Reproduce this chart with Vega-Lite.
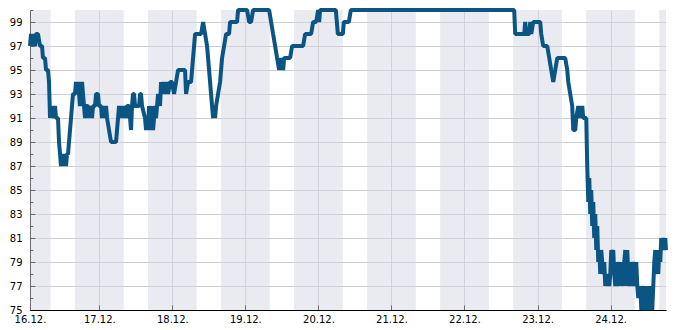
{
  "$schema": "https://vega.github.io/schema/vega-lite/v6.json",
  "width": 636,
  "height": 300,
  "autosize": {"type": "none"},
  "padding": {"left": 30, "top": 10, "right": 19, "bottom": 20},
  "background": "white",
  "config": {
    "view": {"stroke": null},
    "axis": {
      "labelFont": "DejaVu Sans",
      "labelFontSize": 10,
      "labelColor": "#000",
      "domainColor": "#000",
      "tickColor": "#000",
      "gridColor": "#cdcdd2",
      "labelOverlap": false,
      "title": null
    }
  },
  "datasets": {
    "bands": [
      {"time": "2023-12-15T16:00", "end": "2023-12-16T08:00"},
      {"time": "2023-12-16T16:00", "end": "2023-12-17T08:00"},
      {"time": "2023-12-17T16:00", "end": "2023-12-18T08:00"},
      {"time": "2023-12-18T16:00", "end": "2023-12-19T08:00"},
      {"time": "2023-12-19T16:00", "end": "2023-12-20T08:00"},
      {"time": "2023-12-20T16:00", "end": "2023-12-21T08:00"},
      {"time": "2023-12-21T16:00", "end": "2023-12-22T08:00"},
      {"time": "2023-12-22T16:00", "end": "2023-12-23T08:00"},
      {"time": "2023-12-23T16:00", "end": "2023-12-24T08:00"},
      {"time": "2023-12-24T16:00", "end": "2023-12-25T08:00"}
    ],
    "series": [
      {"time": "2023-12-16T01:13", "value": 97},
      {"time": "2023-12-16T01:33", "value": 98},
      {"time": "2023-12-16T01:52", "value": 97},
      {"time": "2023-12-16T02:12", "value": 98},
      {"time": "2023-12-16T02:52", "value": 97},
      {"time": "2023-12-16T03:11", "value": 98},
      {"time": "2023-12-16T03:51", "value": 98},
      {"time": "2023-12-16T04:30", "value": 97},
      {"time": "2023-12-16T05:10", "value": 97},
      {"time": "2023-12-16T05:29", "value": 96},
      {"time": "2023-12-16T06:09", "value": 96},
      {"time": "2023-12-16T06:29", "value": 95},
      {"time": "2023-12-16T07:08", "value": 95},
      {"time": "2023-12-16T07:28", "value": 94},
      {"time": "2023-12-16T07:48", "value": 91},
      {"time": "2023-12-16T08:07", "value": 92},
      {"time": "2023-12-16T08:27", "value": 91},
      {"time": "2023-12-16T08:47", "value": 92},
      {"time": "2023-12-16T09:06", "value": 91},
      {"time": "2023-12-16T09:26", "value": 92},
      {"time": "2023-12-16T09:46", "value": 91},
      {"time": "2023-12-16T10:25", "value": 91},
      {"time": "2023-12-16T10:45", "value": 89},
      {"time": "2023-12-16T11:05", "value": 88},
      {"time": "2023-12-16T11:24", "value": 87},
      {"time": "2023-12-16T11:44", "value": 88},
      {"time": "2023-12-16T12:04", "value": 87},
      {"time": "2023-12-16T12:43", "value": 88},
      {"time": "2023-12-16T13:03", "value": 87},
      {"time": "2023-12-16T13:23", "value": 88},
      {"time": "2023-12-16T13:43", "value": 88},
      {"time": "2023-12-16T14:02", "value": 89},
      {"time": "2023-12-16T14:22", "value": 90},
      {"time": "2023-12-16T14:42", "value": 91},
      {"time": "2023-12-16T15:01", "value": 92},
      {"time": "2023-12-16T15:21", "value": 93},
      {"time": "2023-12-16T16:01", "value": 93},
      {"time": "2023-12-16T16:20", "value": 94},
      {"time": "2023-12-16T16:40", "value": 93},
      {"time": "2023-12-16T17:00", "value": 94},
      {"time": "2023-12-16T17:20", "value": 93},
      {"time": "2023-12-16T17:39", "value": 92},
      {"time": "2023-12-16T17:59", "value": 93},
      {"time": "2023-12-16T18:19", "value": 94},
      {"time": "2023-12-16T18:38", "value": 93},
      {"time": "2023-12-16T18:58", "value": 92},
      {"time": "2023-12-16T19:18", "value": 91},
      {"time": "2023-12-16T19:38", "value": 92},
      {"time": "2023-12-16T20:17", "value": 92},
      {"time": "2023-12-16T20:37", "value": 91},
      {"time": "2023-12-16T20:57", "value": 92},
      {"time": "2023-12-16T21:36", "value": 91},
      {"time": "2023-12-16T21:56", "value": 92},
      {"time": "2023-12-16T22:35", "value": 92},
      {"time": "2023-12-16T22:55", "value": 93},
      {"time": "2023-12-16T23:34", "value": 93},
      {"time": "2023-12-16T23:54", "value": 92},
      {"time": "2023-12-17T00:34", "value": 92},
      {"time": "2023-12-17T00:53", "value": 91},
      {"time": "2023-12-17T01:13", "value": 92},
      {"time": "2023-12-17T01:33", "value": 91},
      {"time": "2023-12-17T02:12", "value": 92},
      {"time": "2023-12-17T02:32", "value": 91},
      {"time": "2023-12-17T03:11", "value": 90},
      {"time": "2023-12-17T03:51", "value": 89},
      {"time": "2023-12-17T04:50", "value": 89},
      {"time": "2023-12-17T05:29", "value": 89},
      {"time": "2023-12-17T05:49", "value": 90},
      {"time": "2023-12-17T06:09", "value": 91},
      {"time": "2023-12-17T06:29", "value": 92},
      {"time": "2023-12-17T06:48", "value": 91},
      {"time": "2023-12-17T07:08", "value": 92},
      {"time": "2023-12-17T07:28", "value": 91},
      {"time": "2023-12-17T07:47", "value": 92},
      {"time": "2023-12-17T08:07", "value": 91},
      {"time": "2023-12-17T08:27", "value": 92},
      {"time": "2023-12-17T08:47", "value": 91},
      {"time": "2023-12-17T09:06", "value": 92},
      {"time": "2023-12-17T09:46", "value": 92},
      {"time": "2023-12-17T10:06", "value": 91},
      {"time": "2023-12-17T10:25", "value": 90},
      {"time": "2023-12-17T10:45", "value": 92},
      {"time": "2023-12-17T11:04", "value": 93},
      {"time": "2023-12-17T11:24", "value": 93},
      {"time": "2023-12-17T11:44", "value": 92},
      {"time": "2023-12-17T13:03", "value": 92},
      {"time": "2023-12-17T13:23", "value": 93},
      {"time": "2023-12-17T13:42", "value": 93},
      {"time": "2023-12-17T14:02", "value": 92},
      {"time": "2023-12-17T15:01", "value": 91},
      {"time": "2023-12-17T15:21", "value": 90},
      {"time": "2023-12-17T15:41", "value": 91},
      {"time": "2023-12-17T16:01", "value": 90},
      {"time": "2023-12-17T16:20", "value": 92},
      {"time": "2023-12-17T16:40", "value": 91},
      {"time": "2023-12-17T17:00", "value": 90},
      {"time": "2023-12-17T17:20", "value": 92},
      {"time": "2023-12-17T17:39", "value": 90},
      {"time": "2023-12-17T17:59", "value": 91},
      {"time": "2023-12-17T18:19", "value": 92},
      {"time": "2023-12-17T18:38", "value": 91},
      {"time": "2023-12-17T18:58", "value": 92},
      {"time": "2023-12-17T19:18", "value": 93},
      {"time": "2023-12-17T19:57", "value": 92},
      {"time": "2023-12-17T20:17", "value": 94},
      {"time": "2023-12-17T20:37", "value": 93},
      {"time": "2023-12-17T20:56", "value": 94},
      {"time": "2023-12-17T21:16", "value": 93},
      {"time": "2023-12-17T21:36", "value": 94},
      {"time": "2023-12-17T21:56", "value": 93},
      {"time": "2023-12-17T22:15", "value": 94},
      {"time": "2023-12-17T22:35", "value": 93},
      {"time": "2023-12-17T23:15", "value": 94},
      {"time": "2023-12-17T23:54", "value": 94},
      {"time": "2023-12-18T00:33", "value": 93},
      {"time": "2023-12-18T01:13", "value": 94},
      {"time": "2023-12-18T01:52", "value": 95},
      {"time": "2023-12-18T04:10", "value": 95},
      {"time": "2023-12-18T04:30", "value": 93},
      {"time": "2023-12-18T05:10", "value": 94},
      {"time": "2023-12-18T06:09", "value": 94},
      {"time": "2023-12-18T06:48", "value": 96},
      {"time": "2023-12-18T07:28", "value": 98},
      {"time": "2023-12-18T09:26", "value": 98},
      {"time": "2023-12-18T10:06", "value": 99},
      {"time": "2023-12-18T10:45", "value": 98},
      {"time": "2023-12-18T11:24", "value": 97},
      {"time": "2023-12-18T12:04", "value": 95},
      {"time": "2023-12-18T12:43", "value": 93},
      {"time": "2023-12-18T13:03", "value": 92},
      {"time": "2023-12-18T13:23", "value": 91},
      {"time": "2023-12-18T13:43", "value": 92},
      {"time": "2023-12-18T14:02", "value": 91},
      {"time": "2023-12-18T14:22", "value": 92},
      {"time": "2023-12-18T15:01", "value": 93},
      {"time": "2023-12-18T15:41", "value": 94},
      {"time": "2023-12-18T16:20", "value": 96},
      {"time": "2023-12-18T17:00", "value": 97},
      {"time": "2023-12-18T17:39", "value": 98},
      {"time": "2023-12-18T18:38", "value": 98},
      {"time": "2023-12-18T18:58", "value": 99},
      {"time": "2023-12-18T21:16", "value": 99},
      {"time": "2023-12-18T21:36", "value": 100},
      {"time": "2023-12-19T00:34", "value": 100},
      {"time": "2023-12-19T01:13", "value": 99},
      {"time": "2023-12-19T01:52", "value": 99},
      {"time": "2023-12-19T02:32", "value": 100},
      {"time": "2023-12-19T07:48", "value": 100},
      {"time": "2023-12-19T08:27", "value": 99},
      {"time": "2023-12-19T09:06", "value": 98},
      {"time": "2023-12-19T09:46", "value": 97},
      {"time": "2023-12-19T10:25", "value": 96},
      {"time": "2023-12-19T11:05", "value": 95},
      {"time": "2023-12-19T11:44", "value": 96},
      {"time": "2023-12-19T12:24", "value": 95},
      {"time": "2023-12-19T12:43", "value": 96},
      {"time": "2023-12-19T14:42", "value": 96},
      {"time": "2023-12-19T15:21", "value": 97},
      {"time": "2023-12-19T18:58", "value": 97},
      {"time": "2023-12-19T19:38", "value": 98},
      {"time": "2023-12-19T21:36", "value": 98},
      {"time": "2023-12-19T22:15", "value": 99},
      {"time": "2023-12-19T23:15", "value": 99},
      {"time": "2023-12-19T23:54", "value": 100},
      {"time": "2023-12-20T00:14", "value": 99},
      {"time": "2023-12-20T00:33", "value": 100},
      {"time": "2023-12-20T05:43", "value": 100},
      {"time": "2023-12-20T06:03", "value": 99},
      {"time": "2023-12-20T06:23", "value": 98},
      {"time": "2023-12-20T08:01", "value": 98},
      {"time": "2023-12-20T08:21", "value": 99},
      {"time": "2023-12-20T10:00", "value": 99},
      {"time": "2023-12-20T10:39", "value": 100},
      {"time": "2023-12-22T16:20", "value": 100},
      {"time": "2023-12-22T16:40", "value": 98},
      {"time": "2023-12-22T19:38", "value": 98},
      {"time": "2023-12-22T19:57", "value": 99},
      {"time": "2023-12-22T20:17", "value": 98},
      {"time": "2023-12-22T21:16", "value": 98},
      {"time": "2023-12-22T21:36", "value": 99},
      {"time": "2023-12-22T21:56", "value": 98},
      {"time": "2023-12-22T22:35", "value": 99},
      {"time": "2023-12-23T00:53", "value": 99},
      {"time": "2023-12-23T01:13", "value": 98},
      {"time": "2023-12-23T01:52", "value": 97},
      {"time": "2023-12-23T03:11", "value": 97},
      {"time": "2023-12-23T03:51", "value": 96},
      {"time": "2023-12-23T04:30", "value": 95},
      {"time": "2023-12-23T05:10", "value": 94},
      {"time": "2023-12-23T05:49", "value": 95},
      {"time": "2023-12-23T06:29", "value": 96},
      {"time": "2023-12-23T09:06", "value": 96},
      {"time": "2023-12-23T09:46", "value": 95},
      {"time": "2023-12-23T10:06", "value": 94},
      {"time": "2023-12-23T10:45", "value": 93},
      {"time": "2023-12-23T11:24", "value": 92},
      {"time": "2023-12-23T11:44", "value": 90},
      {"time": "2023-12-23T12:24", "value": 90},
      {"time": "2023-12-23T12:43", "value": 91},
      {"time": "2023-12-23T13:23", "value": 92},
      {"time": "2023-12-23T14:02", "value": 91},
      {"time": "2023-12-23T14:42", "value": 92},
      {"time": "2023-12-23T15:01", "value": 91},
      {"time": "2023-12-23T16:01", "value": 91},
      {"time": "2023-12-23T16:20", "value": 87},
      {"time": "2023-12-23T16:40", "value": 84},
      {"time": "2023-12-23T17:00", "value": 86},
      {"time": "2023-12-23T17:20", "value": 83},
      {"time": "2023-12-23T17:39", "value": 85},
      {"time": "2023-12-23T17:59", "value": 82},
      {"time": "2023-12-23T18:19", "value": 84},
      {"time": "2023-12-23T18:38", "value": 81},
      {"time": "2023-12-23T18:58", "value": 83},
      {"time": "2023-12-23T19:18", "value": 80},
      {"time": "2023-12-23T19:38", "value": 82},
      {"time": "2023-12-23T19:57", "value": 79},
      {"time": "2023-12-23T20:17", "value": 80},
      {"time": "2023-12-23T20:37", "value": 78},
      {"time": "2023-12-23T20:56", "value": 80},
      {"time": "2023-12-23T21:16", "value": 79},
      {"time": "2023-12-23T21:36", "value": 78},
      {"time": "2023-12-23T21:56", "value": 79},
      {"time": "2023-12-23T22:15", "value": 77},
      {"time": "2023-12-23T22:55", "value": 78},
      {"time": "2023-12-23T23:34", "value": 77},
      {"time": "2023-12-23T23:54", "value": 78},
      {"time": "2023-12-24T00:14", "value": 80},
      {"time": "2023-12-24T00:33", "value": 79},
      {"time": "2023-12-24T00:53", "value": 80},
      {"time": "2023-12-24T01:13", "value": 78},
      {"time": "2023-12-24T01:33", "value": 77},
      {"time": "2023-12-24T01:52", "value": 79},
      {"time": "2023-12-24T02:12", "value": 77},
      {"time": "2023-12-24T02:32", "value": 78},
      {"time": "2023-12-24T02:52", "value": 79},
      {"time": "2023-12-24T03:11", "value": 77},
      {"time": "2023-12-24T03:31", "value": 79},
      {"time": "2023-12-24T03:51", "value": 78},
      {"time": "2023-12-24T04:10", "value": 77},
      {"time": "2023-12-24T04:30", "value": 79},
      {"time": "2023-12-24T04:50", "value": 80},
      {"time": "2023-12-24T05:10", "value": 77},
      {"time": "2023-12-24T05:29", "value": 80},
      {"time": "2023-12-24T05:49", "value": 78},
      {"time": "2023-12-24T06:09", "value": 77},
      {"time": "2023-12-24T06:29", "value": 79},
      {"time": "2023-12-24T06:48", "value": 77},
      {"time": "2023-12-24T07:08", "value": 78},
      {"time": "2023-12-24T07:28", "value": 79},
      {"time": "2023-12-24T08:07", "value": 77},
      {"time": "2023-12-24T08:27", "value": 79},
      {"time": "2023-12-24T08:47", "value": 77},
      {"time": "2023-12-24T09:06", "value": 76},
      {"time": "2023-12-24T09:46", "value": 77},
      {"time": "2023-12-24T10:06", "value": 75},
      {"time": "2023-12-24T10:25", "value": 76},
      {"time": "2023-12-24T10:45", "value": 77},
      {"time": "2023-12-24T11:05", "value": 75},
      {"time": "2023-12-24T11:24", "value": 76},
      {"time": "2023-12-24T11:44", "value": 75},
      {"time": "2023-12-24T12:04", "value": 77},
      {"time": "2023-12-24T12:24", "value": 75},
      {"time": "2023-12-24T12:43", "value": 76},
      {"time": "2023-12-24T13:03", "value": 75},
      {"time": "2023-12-24T13:23", "value": 77},
      {"time": "2023-12-24T13:42", "value": 75},
      {"time": "2023-12-24T14:02", "value": 77},
      {"time": "2023-12-24T14:22", "value": 79},
      {"time": "2023-12-24T14:42", "value": 80},
      {"time": "2023-12-24T15:01", "value": 78},
      {"time": "2023-12-24T15:21", "value": 79},
      {"time": "2023-12-24T15:41", "value": 78},
      {"time": "2023-12-24T16:01", "value": 80},
      {"time": "2023-12-24T16:20", "value": 79},
      {"time": "2023-12-24T16:40", "value": 81},
      {"time": "2023-12-24T17:00", "value": 80},
      {"time": "2023-12-24T17:20", "value": 81},
      {"time": "2023-12-24T17:39", "value": 80},
      {"time": "2023-12-24T17:59", "value": 81},
      {"time": "2023-12-24T18:13", "value": 80}
    ]
  },
  "encoding": {
    "x": {
      "field": "time",
      "type": "temporal",
      "scale": {
        "domain": [
          {"year": 2023, "month": 12, "date": 16, "hours": 1, "minutes": 13},
          {"year": 2023, "month": 12, "date": 24, "hours": 18, "minutes": 13}
        ]
      },
      "axis": {
        "values": [
          {"year": 2023, "month": 12, "date": 16, "hours": 1, "minutes": 13},
          {"year": 2023, "month": 12, "date": 17},
          {"year": 2023, "month": 12, "date": 18},
          {"year": 2023, "month": 12, "date": 19},
          {"year": 2023, "month": 12, "date": 20},
          {"year": 2023, "month": 12, "date": 21},
          {"year": 2023, "month": 12, "date": 22},
          {"year": 2023, "month": 12, "date": 23},
          {"year": 2023, "month": 12, "date": 24}
        ],
        "format": "%d.%m.",
        "labelFlush": false,
        "tickSize": -5,
        "labelPadding": 9,
        "grid": true
      }
    }
  },
  "layer": [
    {
      "data": {"name": "bands"},
      "mark": {"type": "rect", "fill": "#d5d7e1", "opacity": 0.5, "clip": true},
      "encoding": {"x2": {"field": "end"}}
    },
    {
      "data": {"name": "series"},
      "mark": {"type": "line", "color": "#0b5585", "strokeWidth": 4, "strokeJoin": "bevel", "strokeCap": "butt"},
      "encoding": {
        "y": {
          "field": "value",
          "type": "quantitative",
          "scale": {"domain": [75, 100], "nice": false, "zero": false},
          "axis": {
            "values": [75, 76, 77, 78, 79, 80, 81, 82, 83, 84, 85, 86, 87, 88, 89, 90, 91, 92, 93, 94, 95, 96, 97, 98, 99, 100],
            "labelExpr": "datum.value % 2 == 1 ? datum.label : ''",
            "tickSize": {"condition": {"test": "datum.value % 2 == 0", "value": -3}, "value": -5},
            "gridOpacity": {"condition": {"test": "datum.value % 2 == 0", "value": 0}, "value": 1},
            "labelPadding": 13,
            "grid": true
          }
        }
      }
    }
  ]
}
